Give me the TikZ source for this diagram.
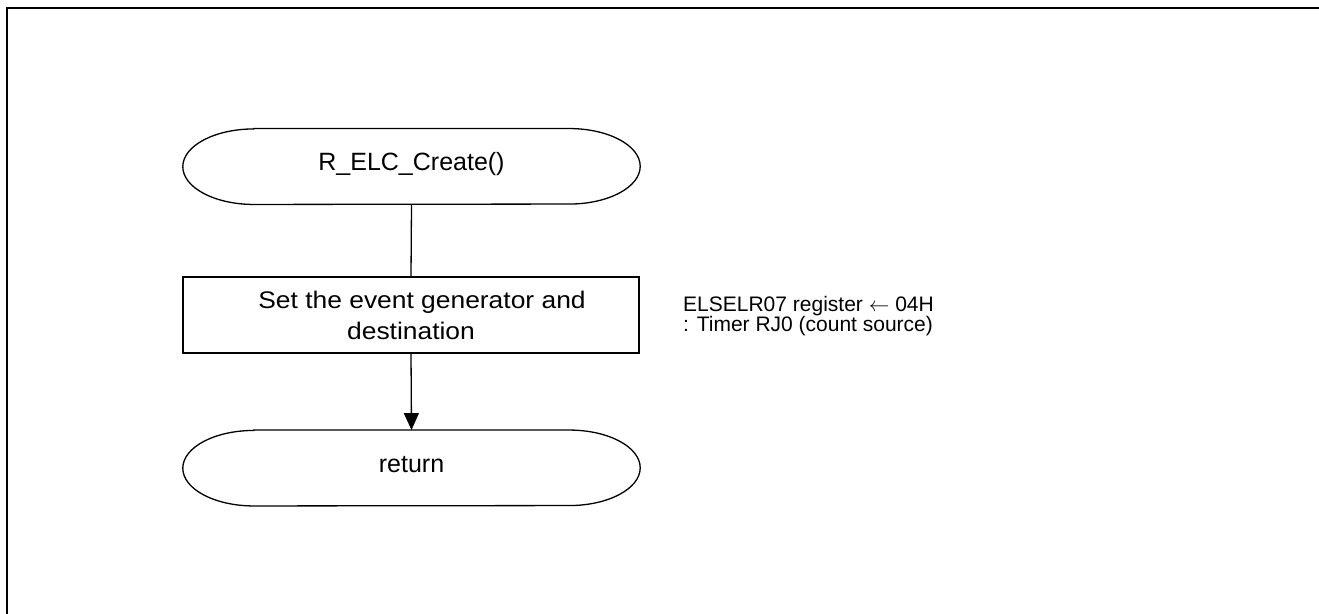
\documentclass[tikz,border=0pt]{standalone}
\usepackage{fontspec}
\setmainfont{Liberation Sans}
\newfontfamily\boxfont[FakeStretch=1.1]{Liberation Sans}
\usetikzlibrary{arrows.meta}
\begin{document}
\begin{tikzpicture}[x=1bp,y=1bp,
  shp/.style={line width=1.3bp},
  term/.style={minimum width=457bp,minimum height=75.5bp,inner sep=0pt,
    font=\fontsize{25bp}{30bp}\selectfont,text height=18bp,text depth=10bp},
  procbox/.style={draw,line width=1.3bp,minimum width=456bp,minimum height=76bp,inner sep=0pt,
    align=center,font=\boxfont\fontsize{24bp}{31bp}\selectfont},
  note/.style={inner sep=0pt,align=left,font=\fontsize{21bp}{18bp}\selectfont},
  arr/.style={shp,-{Triangle[length=17bp,width=15bp]}}
]
\useasboundingbox (0,0) rectangle (1319,-614);
% frame
\draw[line width=2.3bp] (7,-614) -- (7,-7.8) -- (1319,-7.8);
% nodes
\node[term] (t1) at (411.5,-166.5) {R\_ELC\_Create()};
\node[procbox] (p1) at (411,-315) {\hspace*{22bp}Set the event generator and\\destination};
\node[term] (t2) at (411.5,-468) {return};
\node[note,anchor=north west] (n1) at (683,-296) {ELSELR07 register $\leftarrow$ 04H\\: Timer RJ0 (count source)};
% terminal outlines
\foreach \n in {t1,t2}{
  \draw[shp] ([xshift=71bp]\n.north west) -- ([xshift=-71bp]\n.north east)
    arc[start angle=90,end angle=-90,x radius=71bp,y radius=37.75bp]
    -- ([xshift=71bp]\n.south west)
    arc[start angle=270,end angle=90,x radius=71bp,y radius=37.75bp] -- cycle;
}
% connectors
\draw[shp] (t1.south) -- (p1.north);
\draw[arr] (p1.south) -- (t2.north);
\end{tikzpicture}
\end{document}
